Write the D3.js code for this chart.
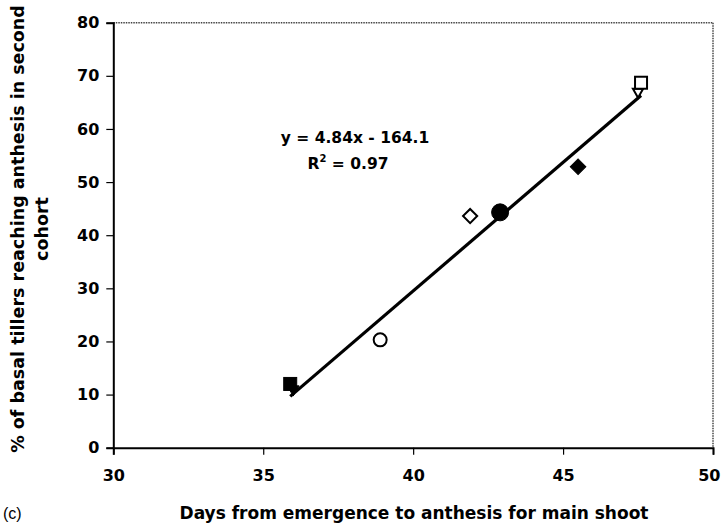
<!DOCTYPE html>
<html><head><meta charset="utf-8">
<script src="https://cdn.jsdelivr.net/npm/d3@7"></script>
<style>body{margin:0;background:#fff}svg{display:block;font-family:"DejaVu Sans",sans-serif}</style>
</head><body>
<svg id="c" width="721" height="529"></svg>
<script>
const xVals = [36.0, 35.9, 38.9, 41.9, 42.9, 45.5, 47.5, 47.6];
const yVals = [11.0, 12.0, 20.3, 43.6, 44.3, 52.9, 67.0, 68.7];
const markers = ["triangleFilled","squareFilled","circleOpen","diamondOpen","circleFilled","diamondFilled","triangleOpen","squareOpen"];
const xTicks = [30, 35, 40, 45, 50];
const yTicks = [0, 10, 20, 30, 40, 50, 60, 70, 80];
const slope = [4.84];
const intercept = [-164.1];
const eqLabels = ["y = 4.84x - 164.1", "R", "2", " = 0.97"];

const FONT = '"DejaVu Sans",sans-serif';
const svg = d3.select("#c");
const L = 113.3, R = 713, T = 22.7, B = 447.7;
const x = d3.scaleLinear().domain([30, 50]).range([L, R]);
const y = d3.scaleLinear().domain([0, 80]).range([B, T]);

// plot border (top/right dotted)
svg.append("line").attr("x1", L).attr("x2", R).attr("y1", T).attr("y2", T)
  .attr("stroke", "#444").attr("stroke-width", 1.5).attr("stroke-dasharray", "1.5,1");
svg.append("line").attr("x1", R).attr("x2", R).attr("y1", T).attr("y2", B)
  .attr("stroke", "#444").attr("stroke-width", 1.5).attr("stroke-dasharray", "1.5,1");

const fs = 16;
const xAxis = svg.append("g").attr("transform", `translate(0,${B})`)
  .call(d3.axisBottom(x).tickValues(xTicks).tickSize(7).tickPadding(15).tickFormat(d3.format("d")));
const yAxis = svg.append("g").attr("transform", `translate(${L},0)`)
  .call(d3.axisLeft(y).tickValues(yTicks).tickSize(7).tickPadding(7).tickFormat(d3.format("d")));
[xAxis, yAxis].forEach(g => {
  g.select(".domain").attr("stroke", "#000").attr("stroke-width", 2);
  g.selectAll(".tick line").attr("stroke", "#000").attr("stroke-width", 1.2);
  g.selectAll("text").attr("font-size", fs).attr("font-weight", "bold").attr("fill", "#000")
    .attr("font-family", FONT);
});
xAxis.selectAll(".tick text").attr("dy", "0.71em");
// last label sits at the right edge, as in the reference
xAxis.selectAll(".tick text").filter(d => d === xTicks[xTicks.length - 1])
  .attr("text-anchor", "end").attr("x", 720 - R);

// trendline
const x0 = d3.min(xVals), x1 = d3.max(xVals);
svg.append("line")
  .attr("x1", x(x0)).attr("y1", y(slope[0] * x0 + intercept[0]))
  .attr("x2", x(x1)).attr("y2", y(slope[0] * x1 + intercept[0]))
  .attr("stroke", "#000").attr("stroke-width", 3.2);

// markers
const data = xVals.map((v, i) => ({x: v, y: yVals[i], m: markers[i]}));
data.forEach(d => {
  const type = d.m.replace(/Filled|Open/, "");
  const filled = d.m.endsWith("Filled");
  const g = svg.append("g").attr("transform", `translate(${x(d.x)},${y(d.y)})`);
  let shape;
  if (type === "square") {
    const s = filled ? 13 : 12;
    shape = g.append("rect").attr("x", -s / 2).attr("y", -s / 2).attr("width", s).attr("height", s);
  } else if (type === "diamond") {
    const s = filled ? 11 : 10;
    shape = g.append("rect").attr("x", -s / 2).attr("y", -s / 2).attr("width", s).attr("height", s)
      .attr("transform", "rotate(45)");
  } else if (type === "circle") {
    shape = g.append("circle").attr("r", filled ? 8.5 : 6.5);
  } else {
    shape = g.append("path").attr("d", d3.symbol().type(d3.symbolTriangle).size(filled ? 60 : 45)()).attr("transform", "rotate(180)");
  }
  shape.attr("fill", filled ? "#000" : "#fff").attr("stroke", "#000").attr("stroke-width", filled ? 1 : 2);
});

// equation
const eq = svg.append("g").attr("font-size", 15.5).attr("font-weight", "bold").attr("text-anchor", "middle")
  .attr("font-family", FONT);
eq.append("text").attr("x", 355).attr("y", 143).text(eqLabels[0]);
const r2 = eq.append("text").attr("x", 348).attr("y", 169);
r2.append("tspan").text(eqLabels[1]);
r2.append("tspan").attr("dy", -7).attr("font-size", 10).text(eqLabels[2]);
r2.append("tspan").attr("dy", 7).text(eqLabels[3]);

// axis titles
svg.append("text").attr("x", 414).attr("y", 519).attr("text-anchor", "middle")
  .attr("font-size", 17).attr("font-weight", "bold").text("Days from emergence to anthesis for main shoot");
svg.append("text").attr("x", 3).attr("y", 519).attr("font-size", 16)
  .attr("font-family", '"Liberation Sans",Arial,sans-serif').text("(c)");
const yt = svg.append("text").attr("transform", `translate(24,229) rotate(-90)`)
  .attr("text-anchor", "middle").attr("font-size", 17.5).attr("font-weight", "bold");
yt.append("tspan").attr("x", 0).attr("dy", 0).text("% of basal tillers reaching anthesis in second");
yt.append("tspan").attr("x", 0).attr("dy", 24).text("cohort");
</script>
</body></html>
